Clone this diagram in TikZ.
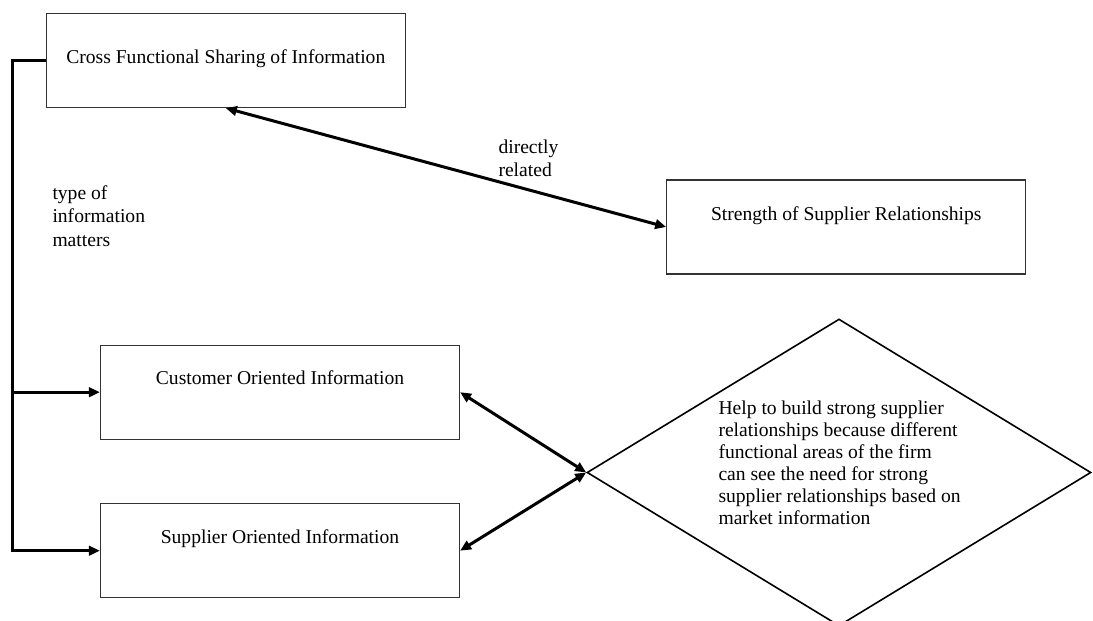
\documentclass[tikz,border=0pt]{standalone}
\usepackage{fontspec}
\setmainfont{Liberation Serif}
\usetikzlibrary{shapes.geometric,arrows.meta,calc}
\begin{document}
\begin{tikzpicture}[x=1pt,y=-1pt,
  box/.style={draw=black!80, line width=1.2pt, minimum width=359pt, minimum height=94pt, inner sep=0pt},
  boxtext/.style={anchor=base, inner sep=0pt, font=\fontsize{19.6}{22}\selectfont},
  note/.style={anchor=north west, align=left, inner sep=0pt, font=\fontsize{19.6}{23.3}\selectfont},
  tip/.tip={Triangle[length=11pt,width=9.5pt]},
  link/.style={line width=3pt, line join=miter, -tip},
  both/.style={line width=3pt, tip-tip},
]
\useasboundingbox (0,0) rectangle (1093,621);
\clip (0,0) rectangle (1093,621);

% boxes
\node[box] (cross) at (225.8,60.5) {};
\node[box] (strength) at (846.3,227) {};
\node[box] (customer) at (280,392.2) {};
\node[box] (supplier) at (280,550.7) {};
\node[draw, diamond, line width=1.6pt, minimum width=504pt, minimum height=307pt, inner sep=0pt] (help) at (839,472.5) {};

% box texts
\node[boxtext] (crosstext) at ($(cross.north)+(0,50.5)$) {Cross Functional Sharing of Information};
\node[boxtext] (strengthtext) at ($(strength.north)+(0,40.7)$) {Strength of Supplier Relationships};
\node[boxtext] (customertext) at ($(customer.north)+(0,40)$) {Customer Oriented Information};
\node[boxtext] (suppliertext) at ($(supplier.north)+(0,40.3)$) {Supplier Oriented Information};
\node[note, font=\fontsize{19.6}{21.9}\selectfont] (helptext) at (718.3,401) {Help to build strong supplier\\relationships because different\\functional areas of the firm\\can see the need for strong\\supplier relationships based on\\market information};

% connector labels
\node[note] (directly) at (498.3,139.2) {directly\\related};
\node[note] (typeof) at (52.3,185.5) {type of\\information\\matters};

% connectors
\coordinate (trunk) at (12.5,60.5);
\draw[link] (cross.west) -- (trunk) |- (supplier.west);
\draw[link] (trunk |- customer.west) -- (customer.west);
\draw[both] (cross.south) -- (strength.west);
\draw[both] (customer.east) -- (help.west);
\draw[both] (supplier.east) -- (help.west);
\end{tikzpicture}
\end{document}
